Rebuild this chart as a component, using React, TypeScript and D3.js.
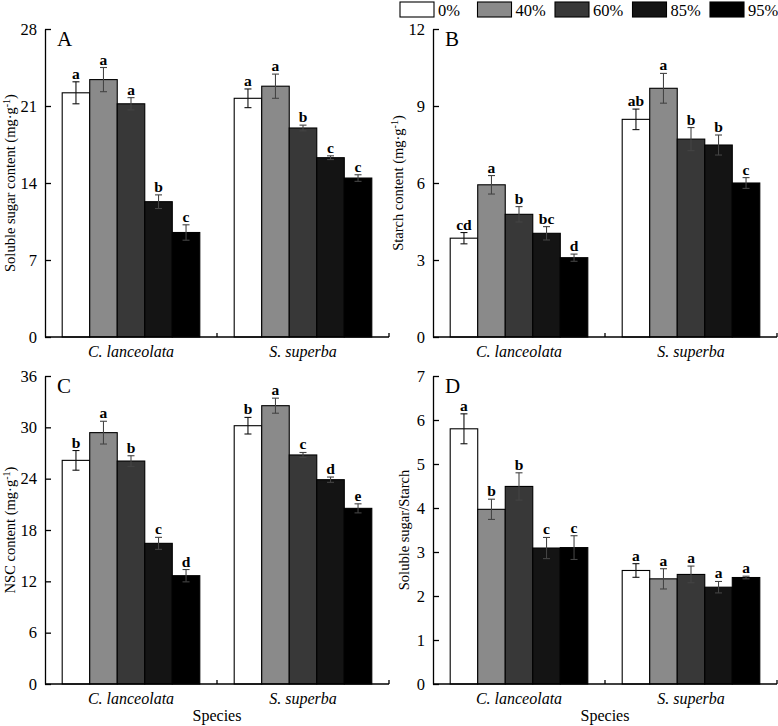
import * as d3 from "d3";
import { useEffect, useRef } from "react";

const species = ["C. lanceolata", "S. superba"];
const treatments = ["0%", "40%", "60%", "85%", "95%"];
const fills = ["#ffffff", "#8a8a8a", "#383838", "#141414", "#000000"];

// A: soluble sugar
const sugarMean = [[22.2, 23.4, 21.2, 12.3, 9.5], [21.7, 22.8, 19.0, 16.3, 14.45]];
const sugarErr = [[1.0, 1.1, 0.56, 0.62, 0.7], [0.85, 1.1, 0.26, 0.17, 0.3]];
const sugarLetters = [["a", "a", "a", "b", "c"], ["a", "a", "b", "c", "c"]];
const sugarTicks = [0, 7, 14, 21, 28];

// B: starch
const starchMean = [[3.85, 5.93, 4.78, 4.04, 3.09], [8.48, 9.69, 7.71, 7.48, 6.0]];
const starchErr = [[0.22, 0.36, 0.3, 0.26, 0.14], [0.4, 0.58, 0.45, 0.39, 0.21]];
const starchLetters = [["cd", "a", "b", "bc", "d"], ["ab", "a", "b", "b", "c"]];
const starchTicks = [0, 3, 6, 9, 12];

// C: NSC
const nscMean = [[26.14, 29.38, 26.06, 16.44, 12.66], [30.19, 32.53, 26.77, 23.88, 20.53]];
const nscErr = [[1.15, 1.33, 0.62, 0.7, 0.72], [0.97, 0.88, 0.29, 0.31, 0.53]];
const nscLetters = [["b", "a", "b", "c", "d"], ["b", "a", "c", "d", "e"]];
const nscTicks = [0, 6, 12, 18, 24, 30, 36];

// D: soluble sugar / starch
const ratioMean = [[5.8, 3.97, 4.49, 3.09, 3.1], [2.58, 2.39, 2.49, 2.2, 2.42]];
const ratioErr = [[0.34, 0.23, 0.31, 0.24, 0.27], [0.155, 0.23, 0.19, 0.13, 0.03]];
const ratioLetters = [["a", "b", "b", "c", "c"], ["a", "a", "a", "a", "a"]];
const ratioTicks = [0, 1, 2, 3, 4, 5, 6, 7];

const FONT = "'Liberation Serif', 'Times New Roman', serif";

interface PanelSpec {
    tag: string;
    left: number;
    top: number;
    labelX: number;
    ylabel: string;
    unit: boolean;
    means: number[][];
    errs: number[][];
    letters: string[][];
    ticks: number[];
    xTitle: boolean;
}

const App = () => {
    const svgRef = useRef<SVGSVGElement | null>(null);

    useEffect(() => {
        const svg = d3.select(svgRef.current);
        svg.selectAll("*").remove();

        const panelW = 344;
        const panelH = 308;

        const panels: PanelSpec[] = [
            { tag: "A", left: 45, top: 29, labelX: 15, ylabel: "Soluble sugar content (mg·g", unit: true, means: sugarMean, errs: sugarErr, letters: sugarLetters, ticks: sugarTicks, xTitle: false },
            { tag: "B", left: 433, top: 29, labelX: 403, ylabel: "Starch content (mg·g", unit: true, means: starchMean, errs: starchErr, letters: starchLetters, ticks: starchTicks, xTitle: false },
            { tag: "C", left: 45, top: 376, labelX: 15, ylabel: "NSC content (mg·g", unit: true, means: nscMean, errs: nscErr, letters: nscLetters, ticks: nscTicks, xTitle: true },
            { tag: "D", left: 433, top: 376, labelX: 409, ylabel: "Soluble sugar/Starch", unit: false, means: ratioMean, errs: ratioErr, letters: ratioLetters, ticks: ratioTicks, xTitle: true },
        ];

        panels.forEach((p) => {
            const g = svg.append("g").attr("transform", `translate(${p.left},${p.top})`);

            const x0 = d3.scaleBand().domain(species).range([0, panelW]);
            const bw = x0.bandwidth();
            const x1 = d3.scaleBand().domain(treatments).range([bw * 0.1, bw * 0.9]);
            const y = d3
                .scaleLinear()
                .domain([0, p.ticks[p.ticks.length - 1]])
                .range([panelH, 0]);

            // Bars
            species.forEach((sp, si) => {
                const grp = g.append("g").attr("transform", `translate(${x0(sp)},0)`);
                treatments.forEach((t, ti) => {
                    const v = p.means[si][ti];
                    const e = p.errs[si][ti];
                    const bx = x1(t)!;
                    const cx = bx + x1.bandwidth() / 2;
                    grp.append("rect")
                        .attr("x", bx)
                        .attr("y", y(v))
                        .attr("width", x1.bandwidth())
                        .attr("height", panelH - y(v))
                        .attr("fill", fills[ti])
                        .attr("stroke", "#000")
                        .attr("stroke-width", 1.1);
                    const eb = grp.append("g").attr("stroke", ti === 0 ? "#111" : "#444").attr("stroke-width", 1.1);
                    eb.append("line").attr("x1", cx).attr("x2", cx).attr("y1", y(v - e)).attr("y2", y(v + e));
                    eb.append("line").attr("x1", cx - 3.5).attr("x2", cx + 3.5).attr("y1", y(v - e)).attr("y2", y(v - e));
                    eb.append("line").attr("x1", cx - 3.5).attr("x2", cx + 3.5).attr("y1", y(v + e)).attr("y2", y(v + e));
                    grp.append("text")
                        .attr("x", cx)
                        .attr("y", y(v + e) - 3)
                        .attr("text-anchor", "middle")
                        .attr("font-family", FONT)
                        .attr("font-weight", "bold")
                        .attr("font-size", 15.5)
                        .text(p.letters[si][ti]);
                });
            });

            // Y axis
            const yAxis = g.append("g")
                .call(
                    d3.axisLeft(y)
                        .tickValues(p.ticks)
                        .tickFormat(d3.format("d"))
                        .tickSize(-6)
                        .tickSizeOuter(0)
                        .tickPadding(8)
                );
            yAxis.select(".domain").attr("stroke-width", 1.3);
            yAxis.selectAll(".tick line").attr("stroke-width", 1.3);
            yAxis.selectAll("text").attr("font-family", FONT).attr("font-size", 16.5).attr("fill", "#000");

            // X axis
            const xa = g.append("g").attr("stroke", "#000").attr("stroke-width", 1.3);
            xa.append("line").attr("x1", 0).attr("x2", panelW).attr("y1", panelH).attr("y2", panelH);
            [x0(species[1])!, x0.range()[1]].forEach((tx) => {
                xa.append("line").attr("x1", tx).attr("x2", tx).attr("y1", panelH).attr("y2", panelH - 4);
            });
            species.forEach((sp) => {
                g.append("text")
                    .attr("x", x0(sp)! + bw / 2)
                    .attr("y", panelH + 20)
                    .attr("text-anchor", "middle")
                    .attr("font-family", FONT)
                    .attr("font-style", "italic")
                    .attr("font-size", 16)
                    .text(sp);
            });
            if (p.xTitle) {
                g.append("text")
                    .attr("x", panelW / 2)
                    .attr("y", panelH + 37)
                    .attr("text-anchor", "middle")
                    .attr("font-family", FONT)
                    .attr("font-size", 16)
                    .text("Species");
            }

            // Panel tag
            g.append("text")
                .attr("x", 12)
                .attr("y", 17)
                .attr("font-family", FONT)
                .attr("font-size", 21)
                .text(p.tag);

            // Y label
            const yl = svg.append("text")
                .attr("transform", `translate(${p.labelX},${p.top + panelH / 2}) rotate(-90)`)
                .attr("text-anchor", "middle")
                .attr("font-family", FONT)
                .attr("font-size", 14.5);
            yl.append("tspan").text(p.ylabel);
            if (p.unit) {
                yl.append("tspan").attr("dy", -5).attr("font-size", 10).text("-1");
                yl.append("tspan").attr("dy", 5).text(")");
            }
        });

        // Legend
        const legend = svg.append("g").attr("transform", "translate(400,2)");
        treatments.forEach((t, i) => {
            const lg = legend.append("g").attr("transform", `translate(${i * 77.5},0)`);
            lg.append("rect")
                .attr("width", 34)
                .attr("height", 15)
                .attr("fill", fills[i])
                .attr("stroke", "#000")
                .attr("stroke-width", 1.1);
            lg.append("text")
                .attr("x", 38)
                .attr("y", 13.5)
                .attr("font-family", FONT)
                .attr("font-size", 16.5)
                .text(t);
        });
    }, []);

    return (
        <svg
            ref={svgRef}
            width={778}
            height={726}
            style={{ position: "absolute", left: 0, top: 0, background: "#fff" }}
        ></svg>
    );
};

export default App;
